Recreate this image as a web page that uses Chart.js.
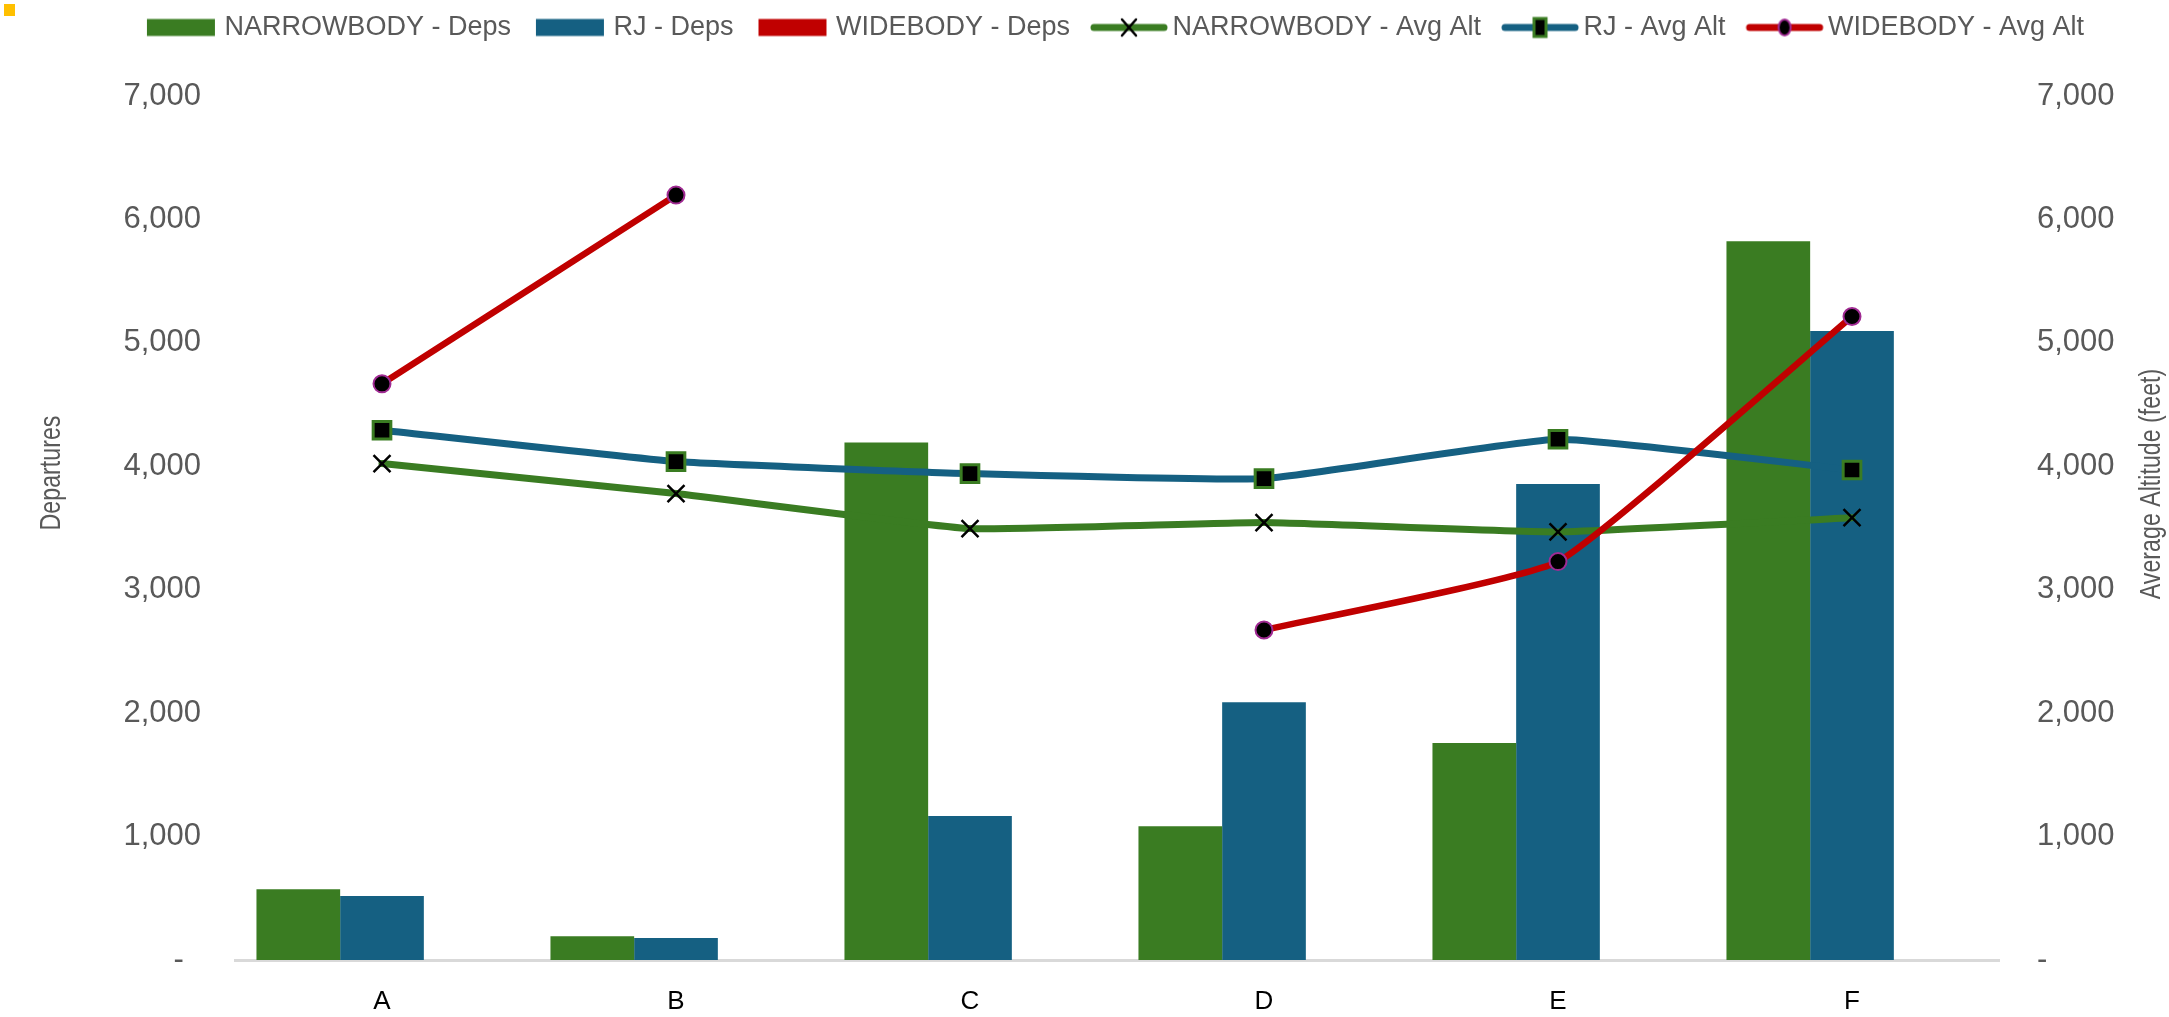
<!DOCTYPE html>
<html>
<head>
<meta charset="utf-8">
<script src="https://cdn.jsdelivr.net/npm/chart.js@4.4.1/dist/chart.umd.min.js"></script>
<style>
  body { margin: 0; background: #fff; }
  #wrap { position: relative; width: 2169px; height: 1017px; }
  #mark { position: absolute; left: 4px; top: 4px; width: 11px; height: 12px; background: #FFC000; z-index: 2; }
</style>
</head>
<body>
<div id="wrap">
  <div id="mark"></div>
  <canvas id="altChart"></canvas>
</div>
<script>
var categories = ['A', 'B', 'C', 'D', 'E', 'F'];

var narrowDeps = [573, 192, 4192, 1083, 1758, 5824];
var rjDeps = [519, 178, 1167, 2088, 3857, 5097];
var wideDeps = [0, 0, 0, 0, 0, 0];

var narrowAlt = [4022, 3779, 3495, 3544, 3468, 3584];
var rjAlt = [4292, 4038, 3941, 3900, 4219, 3970];
var wideAlt = [4668, 6197, null, 2674, 3228, 5213];

var yTicks = [0, 1000, 2000, 3000, 4000, 5000, 6000, 7000];

var GREEN = '#3A7C22', BLUE = '#156082', RED = '#C00000', PURPLE = '#A02B93';
var GREY = '#595959';
var FONT = "'Liberation Sans', Arial, sans-serif";

function fmt(v) {
    if (v === 0) return '-  ';
    return v.toLocaleString('en-US');
}

function boxIcon(color) {
    var c = document.createElement('canvas');
    c.width = 70; c.height = 20;
    var x = c.getContext('2d');
    x.fillStyle = color;
    x.fillRect(1, 1.5, 68, 17);
    return c;
}

function lineIcon(color, kind) {
    var c = document.createElement('canvas');
    c.width = 80; c.height = 24;
    var x = c.getContext('2d');
    x.strokeStyle = color;
    x.lineWidth = 7;
    x.lineCap = 'round';
    x.beginPath(); x.moveTo(5, 12); x.lineTo(75, 12); x.stroke();
    if (kind == 'x') {
        x.strokeStyle = '#000'; x.lineWidth = 2.5;
        x.beginPath(); x.moveTo(33, 4); x.lineTo(47, 20); x.moveTo(47, 4); x.lineTo(33, 20); x.stroke();
    } else if (kind == 'sq') {
        x.fillStyle = '#000'; x.strokeStyle = GREEN; x.lineWidth = 3;
        x.fillRect(34, 3, 12, 18); x.strokeRect(34, 3, 12, 18);
    } else {
        x.fillStyle = '#000'; x.strokeStyle = PURPLE; x.lineWidth = 2;
        x.beginPath(); x.ellipse(40, 12, 6, 8, 0, 0, Math.PI * 2); x.fill(); x.stroke();
    }
    return c;
}

var legendIcons = [boxIcon(GREEN), boxIcon(BLUE), boxIcon(RED),
                   lineIcon(GREEN, 'x'), lineIcon(BLUE, 'sq'), lineIcon(RED, 'o')];

// rotated, slightly condensed axis title
function drawUp(c, text, x, y) {
    c.save();
    c.translate(x, y);
    c.rotate(-Math.PI / 2);
    c.scale(0.8, 1);
    c.fillText(text, 0, 0);
    c.restore();
}

// legend height / offset and the two rotated axis titles
var layoutFix = {
    id: 'layoutFix',
    beforeLayout: function (chart) {
        var lg = chart.legend;
        if (!lg || lg._fixed) return;
        lg._fixed = true;
        var fit = lg.fit;
        lg.fit = function () { fit.call(this); this.height = 96; };
        var draw = lg.draw;
        lg.draw = function () {
            var c = this.ctx;
            c.save(); c.translate(33, -15); draw.call(this); c.restore();
        };
    },
    afterDraw: function (chart) {
        var c = chart.ctx;
        c.save();
        c.fillStyle = GREY;
        c.font = '29px ' + FONT;
        c.textAlign = 'center';
        c.textBaseline = 'middle';
        drawUp(c, 'Departures', 52, 473);
        drawUp(c, 'Average Altitude (feet)', 2152, 484);
        c.restore();
    }
};

var cfg = {
    type: 'bar',
    data: {
        labels: categories,
        datasets: [
            { label: 'NARROWBODY - Deps', data: narrowDeps, backgroundColor: GREEN, yAxisID: 'y', order: 10 },
            { label: 'RJ - Deps', data: rjDeps, backgroundColor: BLUE, yAxisID: 'y', order: 10 },
            { label: 'WIDEBODY - Deps', data: wideDeps, backgroundColor: RED, yAxisID: 'y', order: 10 },
            { type: 'line', label: 'NARROWBODY - Avg Alt', data: narrowAlt, yAxisID: 'y1', order: 3,
              borderColor: GREEN, borderWidth: 7, tension: 0.12, borderCapStyle: 'round', borderJoinStyle: 'round',
              pointStyle: 'crossRot', pointRadius: 12, pointBorderColor: '#000', pointBorderWidth: 2.5, pointBackgroundColor: '#000' },
            { type: 'line', label: 'RJ - Avg Alt', data: rjAlt, yAxisID: 'y1', order: 2,
              borderColor: BLUE, borderWidth: 7, tension: 0.12, borderCapStyle: 'round', borderJoinStyle: 'round',
              pointStyle: 'rect', pointRadius: 12.5, pointBorderColor: GREEN, pointBorderWidth: 3, pointBackgroundColor: '#000' },
            { type: 'line', label: 'WIDEBODY - Avg Alt', data: wideAlt, yAxisID: 'y1', order: 1,
              borderColor: RED, borderWidth: 6.5, tension: 0.12, borderCapStyle: 'round', borderJoinStyle: 'round', spanGaps: false,
              pointStyle: 'circle', pointRadius: 8.5, pointBorderColor: PURPLE, pointBorderWidth: 2, pointBackgroundColor: '#000' }
        ]
    },
    options: {
        responsive: true,
        maintainAspectRatio: false,
        animation: false,
        datasets: { bar: { categoryPercentage: 0.854, barPercentage: 1.0 } },
        plugins: {
            tooltip: { enabled: false },
            legend: {
                position: 'top',
                labels: {
                    usePointStyle: true,
                    pointStyleWidth: 60,
                    padding: 29,
                    color: GREY,
                    font: { family: FONT, size: 27 },
                    sort: function (a, b) { return a.datasetIndex - b.datasetIndex; },
                    generateLabels: function (chart) {
                        var items = Chart.defaults.plugins.legend.labels.generateLabels(chart);
                        items.forEach(function (it) { it.pointStyle = legendIcons[it.datasetIndex]; });
                        return items;
                    }
                }
            }
        },
        scales: {
            x: {
                offset: true,
                grid: { display: false, drawTicks: false },
                border: { display: true, color: '#D9D9D9', width: 3 },
                ticks: { color: '#000', padding: 26, font: { family: FONT, size: 26 } },
                afterFit: function (s) { s.height = 57; }
            },
            y: {
                position: 'left',
                min: 0, max: 7000,
                afterBuildTicks: function (s) { s.ticks = yTicks.map(function (v) { return { value: v }; }); },
                grid: { display: false, drawTicks: false },
                border: { display: false },
                ticks: { color: GREY, padding: 34, font: { family: FONT, size: 31 }, callback: fmt },
                afterFit: function (s) { s.width = 235; }
            },
            y1: {
                position: 'right',
                min: 0, max: 7000,
                afterBuildTicks: function (s) { s.ticks = yTicks.map(function (v) { return { value: v }; }); },
                grid: { display: false, drawTicks: false },
                border: { display: false },
                ticks: { color: GREY, padding: 38, font: { family: FONT, size: 31 }, callback: fmt },
                afterFit: function (s) { s.width = 170; }
            }
        }
    },
    plugins: [layoutFix]
};

var altChart = new Chart(document.getElementById('altChart').getContext('2d'), cfg);
</script>
</body>
</html>
